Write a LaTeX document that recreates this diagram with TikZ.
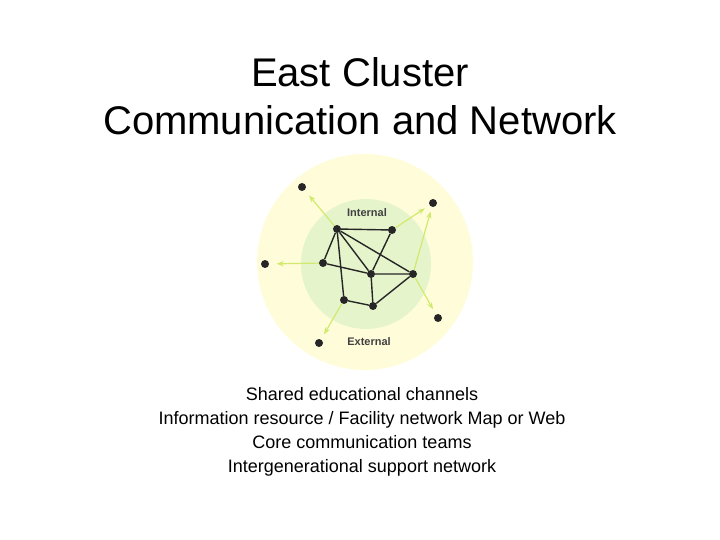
\documentclass[tikz,border=0pt]{standalone}
\usepackage{fontspec}
\setmainfont{Liberation Sans}
\usetikzlibrary{arrows.meta,calc}
\begin{document}
\begin{tikzpicture}[x=1pt,y=-1pt,
  dot/.style={circle,fill=black!85,inner sep=0pt,minimum size=8pt},
  edge/.style={black!85,line width=1.4pt},
  ray/.style={draw=yellow!70!green!60,line width=1.2pt,-{Stealth[length=7pt]}},
  lbl/.style={font=\bfseries\fontsize{11}{12}\selectfont,text=black!75}]
\useasboundingbox (0,0) rectangle (720,540);
\fill[yellow!15] (365,262) circle (108);
\fill[yellow!50!green!20!white] (366,264) circle (65);
\node[font=\fontsize{40}{48}\selectfont,align=center] (t) at (360,96) {East Cluster\\Communication and Network};
\node (A) [dot] at (337,229) {};
\node (B) [dot] at (392,230) {};
\node (C) [dot] at (323,263) {};
\node (D) [dot] at (371,274) {};
\node (E) [dot] at (413,274) {};
\node (F) [dot] at (344,300) {};
\node (G) [dot] at (373,306) {};
\node (O1) [dot] at (302,187) {};
\node (O2) [dot] at (433,203) {};
\node (O3) [dot] at (265,264) {};
\node (O4) [dot] at (438,318) {};
\node (O5) [dot] at (319,343) {};
\draw[ray] (A) -- ($(A)!0.8!(O1)$);
\draw[ray] (B) -- ($(B)!0.8!(O2)$);
\draw[ray] (E) -- ($(E)!0.88!(O2)$);
\draw[ray] (C) -- ($(C)!0.8!(O3)$);
\draw[ray] (E) -- ($(E)!0.8!(O4)$);
\draw[ray] (F) -- ($(F)!0.8!(O5)$);
\draw[edge] (A)--(B) (A)--(C) (A)--(D) (A)--(E) (A)--(F) (B)--(D) (C)--(D) (D)--(E) (D)--(G) (F)--(G) (G)--(E);
\node[lbl] (int) at (367,213) {Internal};
\node[lbl] (ext) at (369,342) {External};
\node[font=\fontsize{18}{24}\selectfont,align=center] (b) at (362,432) {Shared educational channels\\Information resource / Facility network Map or Web\\Core communication teams\\Intergenerational support network};
\end{tikzpicture}
\end{document}
